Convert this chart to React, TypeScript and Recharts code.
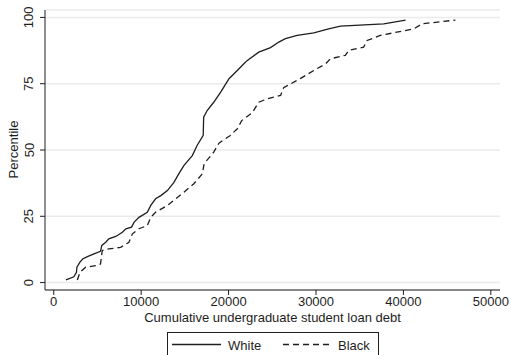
import { CartesianGrid, Label, Line, LineChart, XAxis, YAxis } from "recharts"

// cumulative distribution of undergraduate loan debt, by group
const whiteDebt = [
  1400, 2300, 2600, 2650, 3000, 3300, 3850, 4600, 5350, 5500, 5950, 6300, 7100, 7850, 8250, 8900,
  9200, 9750, 10700, 11100, 11650, 12250, 13000, 13750, 14300, 14900, 15850, 16400, 17100, 17150,
  17550, 18300, 19100, 20050, 21000, 21750, 22150, 23450, 24800, 25750, 26500, 27850, 29750, 31450,
  32800, 37750, 40250,
]
const whitePct = [
  1.0, 2.2, 3.9, 5.8, 7.7, 8.9, 9.8, 10.8, 11.8, 14.0, 15.2, 16.5, 17.4, 19.0, 20.3, 20.9, 22.8,
  24.6, 26.5, 29.1, 31.6, 32.8, 34.7, 37.8, 41.0, 44.2, 47.9, 51.7, 55.5, 62.4, 64.9, 68.0, 71.8,
  76.9, 80.0, 82.5, 83.8, 86.9, 88.6, 90.7, 92.0, 93.2, 94.2, 95.7, 96.7, 97.6, 99.0,
]
const blackDebt = [
  2700, 3000, 3650, 4800, 5350, 5550, 6300, 7650, 8600, 9000, 9750, 10700, 11100, 11650, 13000,
  13950, 14900, 16000, 17000, 17200, 18300, 18900, 20200, 21000, 21500, 22700, 23450, 24400, 25950,
  26300, 28200, 29750, 31100, 31650, 33350, 33750, 35450, 35850, 37350, 41200, 42150, 45950,
]
const blackPct = [
  1.0, 3.9, 5.8, 6.4, 7.0, 12.1, 12.7, 13.3, 15.2, 18.4, 20.3, 21.5, 24.6, 26.5, 29.1, 31.6, 34.1,
  37.2, 41.0, 44.8, 49.2, 52.6, 55.5, 58.0, 61.1, 64.0, 68.0, 69.3, 70.6, 73.5, 76.9, 80.0, 82.5,
  84.4, 85.7, 87.6, 88.8, 91.3, 93.2, 95.7, 97.6, 99.0,
]
const xTicks = [0, 10000, 20000, 30000, 40000, 50000]
const yTicks = [0, 25, 50, 75, 100]

const whiteData = whiteDebt.map((x, i) => ({ x, y: whitePct[i] }))
const blackData = blackDebt.map((x, i) => ({ x, y: blackPct[i] }))

const font = "'Liberation Sans', Arial, sans-serif"
const ink = "#1e1e1e"

const RotatedTick = (props: any) => {
  const { x, y, payload } = props
  const px = x - 4.5
  return (
    <text
      x={px}
      y={y}
      transform={`rotate(-90, ${px}, ${y})`}
      textAnchor="middle"
      fontSize={13}
      fontFamily={font}
      fill={ink}
    >
      {payload.value}
    </text>
  )
}

export default function App() {
  return (
    <div
      style={{
        position: "absolute",
        left: 0,
        top: 0,
        width: 511,
        height: 355,
        overflow: "hidden",
        background: "#fff",
        fontFamily: font,
      }}
    >
      <LineChart width={511} height={355} margin={{ top: 10, right: 11, left: 0, bottom: 0 }}>
        <CartesianGrid vertical={false} stroke="#ebebeb" strokeWidth={1.5} />
        <XAxis
          type="number"
          dataKey="x"
          domain={[-1000, 51050]}
          ticks={xTicks}
          allowDataOverflow
          height={65}
          tickSize={5}
          tickMargin={2}
          stroke={ink}
          tick={{ fontSize: 13, fontFamily: font, fill: ink }}
        >
          <Label
            value="Cumulative undergraduate student loan debt"
            position="insideTop"
            offset={23}
            fontSize={13}
            fontFamily={font}
            fill={ink}
          />
        </XAxis>
        <YAxis
          type="number"
          dataKey="y"
          domain={[-2.8, 102.8]}
          ticks={yTicks}
          allowDataOverflow
          width={45}
          tickSize={5}
          stroke={ink}
          tick={<RotatedTick />}
        >
          <Label
            content={() => (
              <text
                transform="translate(18, 149.5) rotate(-90)"
                textAnchor="middle"
                fontSize={13}
                fontFamily={font}
                fill={ink}
              >
                Percentile
              </text>
            )}
          />
        </YAxis>
        <Line
          data={whiteData}
          dataKey="y"
          type="linear"
          stroke={ink}
          strokeWidth={1.3}
          dot={false}
          isAnimationActive={false}
        />
        <Line
          data={blackData}
          dataKey="y"
          type="linear"
          stroke={ink}
          strokeWidth={1.3}
          strokeDasharray="6 4"
          dot={false}
          isAnimationActive={false}
        />
      </LineChart>
      {/* legend box, partly running off the bottom edge */}
      <div
        style={{
          position: "absolute",
          left: 167,
          top: 332,
          width: 212,
          height: 30,
          border: `1px solid ${ink}`,
          boxSizing: "border-box",
        }}
      >
        <svg width={212} height={30} style={{ position: "absolute", left: -1, top: -1 }}>
          <line x1={5} x2={54} y1={12.5} y2={12.5} stroke={ink} strokeWidth={1.3} />
          <text x={61} y={18} fontSize={13} fontFamily={font} fill={ink}>
            White
          </text>
          <line x1={116} x2={164} y1={12.5} y2={12.5} stroke={ink} strokeWidth={1.3} strokeDasharray="6 4" />
          <text x={171} y={18} fontSize={13} fontFamily={font} fill={ink}>
            Black
          </text>
        </svg>
      </div>
    </div>
  )
}
